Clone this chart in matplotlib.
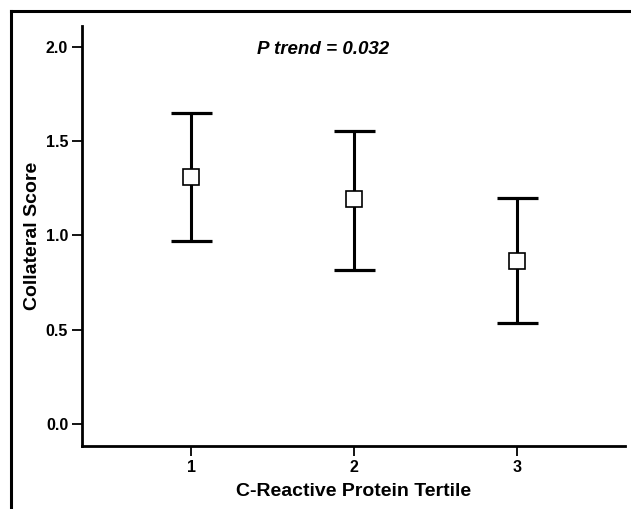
import matplotlib
matplotlib.use("Agg")
import matplotlib.pyplot as plt
import numpy as np
from matplotlib.lines import Line2D

plt.rcParams['font.family'] = ['Liberation Sans', 'DejaVu Sans']

# data
tertiles = [1, 2, 3]
tick_labels = ['1', '2', '3']
means = [1.31, 1.19, 0.865]
upper = [1.65, 1.555, 1.195]
lower = [0.97, 0.817, 0.536]
p_text = 'P trend = 0.032'

err_lo = [m - lo for m, lo in zip(means, lower)]
err_hi = [hi - m for m, hi in zip(means, upper)]

fig = plt.figure(figsize=(6.31, 5.09), dpi=100)
ax = fig.add_axes([0.130, 0.124, 0.860, 0.825])

ax.errorbar(tertiles, means, yerr=[err_lo, err_hi], fmt='s', color='black',
            ecolor='black', elinewidth=2.2, capsize=0,
            markersize=11.5, markerfacecolor='white', markeredgecolor='black',
            markeredgewidth=1.2, zorder=3)

# caps drawn as short horizontal lines
x = np.array(tertiles)
half = 0.126
ax.hlines(upper, x - half, x + half, colors='black', linewidth=2.3, zorder=2)
ax.hlines(lower, x - half, x + half, colors='black', linewidth=2.3, zorder=2)

ax.set_xlim(0.331, 3.66)
ax.set_ylim(-0.117, 2.11)
ax.set_xticks(tertiles)
ax.set_xticklabels(tick_labels)
ax.set_yticks([0.0, 0.5, 1.0, 1.5, 2.0])
ax.set_yticklabels(['0.0', '0.5', '1.0', '1.5', '2.0'])

for s in ['top', 'right']:
    ax.spines[s].set_visible(False)
for s in ['left', 'bottom']:
    ax.spines[s].set_linewidth(2.0)

ax.tick_params(axis='both', direction='out', length=7, width=1.3,
               labelsize=11.5, pad=3)
for lab in ax.get_xticklabels() + ax.get_yticklabels():
    lab.set_fontweight('bold')

ax.set_xlabel('C-Reactive Protein Tertile', fontsize=14, fontweight='bold', labelpad=6)
ax.set_ylabel('Collateral Score', fontsize=14, fontweight='bold', labelpad=3)

ax.text(0.445, 0.945, p_text, transform=ax.transAxes, ha='center', va='center',
        fontsize=13.5, fontweight='bold', fontstyle='italic')

# outer frame (only top and left edges are visible in the reference)
fig.add_artist(Line2D([11 / 631, 11 / 631], [0, 1 - 11 / 509], transform=fig.transFigure,
                      color='black', linewidth=2.2))
fig.add_artist(Line2D([11 / 631, 1], [1 - 11 / 509, 1 - 11 / 509], transform=fig.transFigure,
                      color='black', linewidth=2.2))

fig.savefig('out.png', dpi=100)
